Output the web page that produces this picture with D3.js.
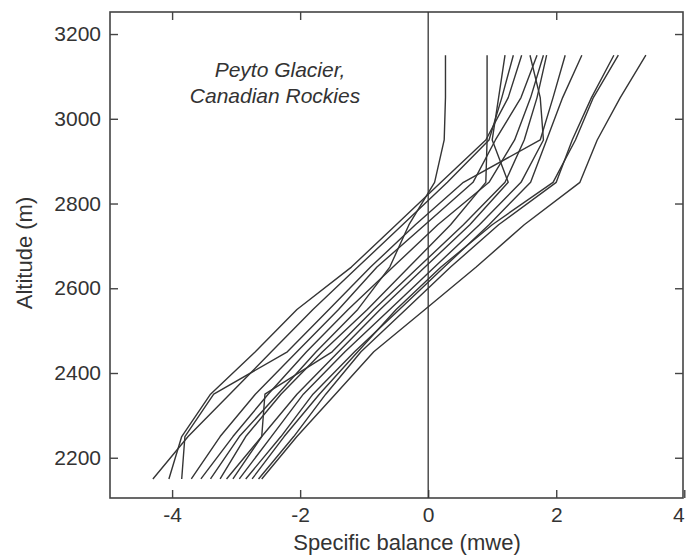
<!DOCTYPE html>
<html>
<head>
<meta charset="utf-8">
<script src="https://cdn.jsdelivr.net/npm/d3@7"></script>
<style>
  body { margin: 0; background: #fff; }
  svg { display: block; }
  .lines { fill: none; stroke: #353535; stroke-width: 1.4; stroke-linejoin: round; }
  .tick text { font-family: "Liberation Sans", Arial, sans-serif; font-size: 21px; fill: #333; }
</style>
</head>
<body>
<svg width="686" height="557"></svg>
<script>
// altitude bands (m) of the profiles
var altitudes = [2150, 2250, 2350, 2450, 2550, 2650, 2750, 2850, 2950, 3050, 3150];

// specific balance (mwe) per band, one array per year
var profiles = [
  [-4.30, -3.75, -3.10, -2.45, -1.80, -1.10, -0.40, 0.30, 0.95, 1.15, 1.33],
  [-4.05, -3.85, -3.40, -2.70, -2.05, -1.20, -0.50, 0.20, 0.90, 1.25, 1.46],
  [-3.85, -3.80, -3.35, -2.20, -1.55, -0.90, -0.20, 0.55, 1.75, 1.95, 2.14],
  [-3.70, -3.25, -2.70, -2.05, -1.40, -0.80, -0.05, 0.70, 1.05, 1.45, 1.70],
  [-3.55, -3.05, -2.50, -1.90, -1.25, -0.55, 0.15, 0.95, 1.35, 1.60, 1.80],
  [-3.40, -2.95, -2.35, -1.75, -1.10, -0.60, -0.30, 0.10, 0.25, 0.27, 0.27],
  [-3.25, -2.85, -2.30, -1.65, -0.95, -0.30, 0.35, 0.90, 0.92, 0.92, 0.92],
  [-3.15, -2.60, -2.55, -1.50, -0.85, -0.15, 0.55, 1.20, 1.50, 1.70, 1.85],
  [-3.05, -2.60, -2.05, -1.40, -0.75, -0.05, 0.65, 1.25, 1.00, 1.10, 1.20],
  [-2.95, -2.45, -1.95, -1.30, -0.60, 0.10, 0.80, 1.45, 1.80, 1.75, 1.59],
  [-2.85, -2.30, -1.80, -1.15, -0.45, 0.25, 0.95, 1.60, 1.85, 2.10, 2.40],
  [-2.75, -2.25, -1.70, -1.10, -0.50, 0.20, 1.00, 1.95, 2.30, 2.58, 2.97],
  [-2.65, -2.10, -1.60, -1.05, -0.35, 0.35, 1.10, 2.00, 2.25, 2.55, 2.90],
  [-2.60, -2.05, -1.45, -0.85, -0.05, 0.75, 1.50, 2.37, 2.64, 3.00, 3.40]
];

var xTicks = [-4, -2, 0, 2, 4];
var yTicks = [2200, 2400, 2600, 2800, 3000, 3200];

var svg = d3.select("svg");
var plotL = 110, plotR = 683, plotT = 12, plotB = 498;

var x = d3.scaleLinear().domain([-4.97, 3.98]).range([plotL, plotR]);
var y = d3.scaleLinear().domain([2105, 3252]).range([plotB, plotT]);

var ink = "#353535";
var fmt = function(d) { return String(d); };

// frame
svg.append("rect")
  .attr("x", plotL).attr("y", plotT)
  .attr("width", plotR - plotL).attr("height", plotB - plotT)
  .attr("fill", "none").attr("stroke", "#444").attr("stroke-width", 1.6);

// axes, ticks pointing inward
svg.append("g")
  .attr("transform", "translate(0," + plotB + ")")
  .call(d3.axisBottom(x).tickValues(xTicks).tickSize(-8).tickPadding(9).tickFormat(fmt));
svg.append("g")
  .attr("transform", "translate(0," + plotT + ")")
  .call(d3.axisTop(x).tickValues(xTicks.filter(function(d){ return d != 0 && d != 4; })).tickSize(-8).tickFormat(""));
svg.append("g")
  .attr("transform", "translate(" + plotL + ",0)")
  .call(d3.axisLeft(y).tickValues(yTicks).tickSize(-8).tickPadding(9).tickFormat(fmt));
svg.append("g")
  .attr("transform", "translate(" + plotR + ",0)")
  .call(d3.axisRight(y).tickValues(yTicks).tickSize(-8).tickFormat(""));

svg.selectAll(".domain").remove();
svg.selectAll(".tick line").attr("stroke", "#444").attr("stroke-width", 1.4);
// last x label sits on the page edge
svg.selectAll(".tick text").filter(function(d) { return d === 4; })
  .attr("text-anchor", "end");

// zero line
svg.append("line")
  .attr("x1", x(0)).attr("x2", x(0))
  .attr("y1", plotT).attr("y2", plotB)
  .attr("stroke", ink).attr("stroke-width", 1.3);

// balance profiles
var line = d3.line()
  .x(function(d) { return x(d); })
  .y(function(d, i) { return y(altitudes[i]); });

svg.append("g").selectAll("path")
  .data(profiles)
  .enter().append("path")
  .attr("class", "lines")
  .attr("d", line);

// labels
svg.append("text")
  .attr("x", 407).attr("y", 550)
  .attr("text-anchor", "middle")
  .attr("font-family", "Liberation Sans, Arial, sans-serif")
  .attr("font-size", 22).attr("fill", "#333")
  .text("Specific balance (mwe)");

svg.append("text")
  .attr("transform", "translate(32,253) rotate(-90)")
  .attr("text-anchor", "middle")
  .attr("font-family", "Liberation Sans, Arial, sans-serif")
  .attr("font-size", 22).attr("fill", "#333")
  .text("Altitude (m)");

var title = svg.append("text")
  .attr("text-anchor", "middle")
  .attr("font-family", "Liberation Sans, Arial, sans-serif")
  .attr("font-style", "italic")
  .attr("font-size", 21).attr("fill", "#333");
title.append("tspan").attr("x", 280).attr("y", 77).text("Peyto Glacier,");
title.append("tspan").attr("x", 275).attr("y", 103).text("Canadian Rockies");
</script>
</body>
</html>
